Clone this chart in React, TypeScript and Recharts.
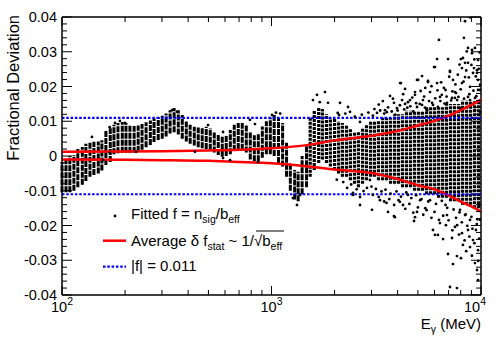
import React from 'react';
import { ComposedChart, Scatter, Line, XAxis, YAxis, ReferenceLine, ErrorBar, Legend } from 'recharts';

const FONT = '"Liberation Sans", Arial, Helvetica, sans-serif';

// ---- data (E in MeV, f = fractional deviation) ----
// dense vertical columns of fitted points: [E, lowest f, highest f]
const columnsLow: [number, number, number][] = [
  [100, -0.0104, -0.0017], [104.5, -0.0104, -0.001], [109, -0.0104, 0.0], [114, -0.01, 0.0003],
  [119, -0.009, 0.002], [125, -0.0083, 0.0026], [130, -0.0072, 0.0035], [136, -0.006, 0.004],
  [142, -0.0055, 0.0041], [149, -0.005, 0.0042], [155, -0.0042, 0.0045], [162, -0.0026, 0.0072],
  [170, -0.0017, 0.008], [177, 0.0005, 0.009], [185, 0.0008, 0.0095], [194, 0.0009, 0.0098],
  [202, 0.0009, 0.0095], [211, 0.0009, 0.009], [221, 0.0009, 0.0086], [231, 0.0012, 0.0088],
  [241, 0.0018, 0.0092], [252, 0.0025, 0.0097], [264, 0.0032, 0.0102], [275, 0.004, 0.0108],
  [288, 0.0046, 0.0112], [301, 0.005, 0.0116], [314, 0.0056, 0.0122], [328, 0.0065, 0.0132],
  [343, 0.0068, 0.0138], [359, 0.0062, 0.0132], [375, 0.005, 0.0118], [392, 0.0042, 0.01],
  [409, 0.0035, 0.009], [428, 0.003, 0.0084], [447, 0.0025, 0.0082], [467, 0.0022, 0.0083],
  [488, 0.002, 0.0084], [510, 0.0018, 0.008], [533, 0.001, 0.007], [557, 0.0003, 0.0062],
  [582, -0.0002, 0.0058], [608, 0.0, 0.006], [636, 0.0005, 0.0075], [664, 0.0015, 0.009],
  [694, 0.002, 0.0095], [725, 0.0018, 0.0095], [758, 0.001, 0.0088], [792, -0.001, 0.0068],
  [828, -0.0015, 0.006], [865, -0.0015, 0.0065], [904, -0.0005, 0.0085], [945, 0.0005, 0.01],
  [987, 0.0005, 0.011], [1030, 0.0, 0.012], [1080, -0.002, 0.011], [1130, -0.003, 0.0095],
  [1180, -0.006, 0.004], [1230, -0.01, -0.002], [1290, -0.0125, -0.004], [1340, -0.013, -0.0045],
  [1400, -0.011, 0.0], [1470, -0.009, 0.003],
];

const columnsHigh: [number, number, number][] = [
  [1530, -0.006, 0.011], [1600, -0.004, 0.013], [1680, -0.002, 0.014], [1750, -0.001, 0.0135],
  [1830, -0.002, 0.012], [1910, -0.003, 0.011], [2000, -0.004, 0.011], [2090, -0.005, 0.01],
  [2180, -0.006, 0.0095], [2280, -0.006, 0.009], [2380, -0.007, 0.008], [2490, -0.008, 0.007],
  [2600, -0.009, 0.007], [2720, -0.008, 0.008], [2840, -0.007, 0.009], [2970, -0.006, 0.01],
  [3100, -0.006, 0.01], [3240, -0.007, 0.01], [3390, -0.007, 0.011], [3540, -0.007, 0.011],
  [3700, -0.008, 0.011], [3870, -0.008, 0.012], [4040, -0.008, 0.012], [4220, -0.009, 0.012],
  [4410, -0.009, 0.013], [4610, -0.009, 0.013], [4820, -0.01, 0.013], [5040, -0.01, 0.013],
  [5260, -0.01, 0.013], [5500, -0.011, 0.014], [5750, -0.011, 0.014], [6010, -0.011, 0.014],
  [6280, -0.012, 0.014], [6560, -0.012, 0.014], [6850, -0.012, 0.015], [7160, -0.013, 0.015],
  [7480, -0.013, 0.015], [7820, -0.013, 0.015], [8170, -0.014, 0.016], [8540, -0.014, 0.016],
  [8920, -0.014, 0.016], [9320, -0.015, 0.016], [9740, -0.015, 0.016],
];

// isolated fitted points: [E, f]
const isolatedLow: [number, number][] = [
  [139, 0.0055], [169, 0.0083], [179, 0.0095], [189, 0.0101], [200, 0.0095], [226, 0.0012],
  [169, 0.0009], [157, -0.0012], [335, 0.0132], [354, 0.0127], [431, 0.0012], [498, 0.0089],
  [587, 0.0069], [789, 0.0104], [834, 0.0092], [587, -0.0006], [634, -0.0012], [862, -0.0017],
  [1006, 0.0118], [1265, -0.0121], [1323, -0.0141], [1370, -0.0112], [1100, 0.0122], [1050, 0.0125],
];

const isolatedHigh: [number, number][] = [
  [1578, 0.0161], [1649, 0.0176], [1700, 0.0155], [1800, 0.0184], [1861, 0.0153], [2070, 0.0124],
  [2123, 0.0153], [2319, 0.0141], [2370, 0.0127], [2645, 0.0098], [3189, 0.0124], [2449, -0.0112],
  [2645, -0.0118], [2856, -0.0092], [2297, -0.0092], [2950, -0.0069], [2449, -0.0106],
  [8860, 0.0399], [8390, 0.0388], [8290, 0.034], [6300, 0.0334], [8670, 0.0311], [9060, 0.0305],
  [8670, 0.0268], [6170, 0.0279], [6960, 0.0279], [8020, 0.0279], [5970, 0.0256], [7110, 0.0245],
  [8110, 0.0253], [9260, 0.0253], [4950, 0.0219], [5230, 0.023], [5585, 0.0216], [4150, 0.021],
  [4340, 0.0193], [7350, 0.0219], [6170, 0.021], [8390, 0.0227], [9570, 0.0239], [9680, 0.0219],
  [4200, 0.0161], [3970, 0.0138], [4582, 0.0161], [5285, 0.0161], [5530, 0.0132], [4950, 0.0141],
  [6230, 0.0141], [6370, 0.017], [7510, 0.0167], [7600, 0.0181], [8860, 0.0199], [9900, 0.019],
  [6770, 0.019], [3678, 0.0173], [3843, 0.0153], [4340, 0.015], [3482, 0.0132], [4840, 0.0176],
  [5710, 0.0184], [7940, 0.0138], [8860, 0.0161], [9360, 0.0132], [9680, 0.0276], [9900, 0.0127],
  [6030, 0.0256], [7110, 0.0242], [5010, 0.0219], [5585, 0.0213], [4110, 0.021], [4840, 0.0184],
  [5420, 0.0196], [6500, 0.0176], [7510, 0.0184], [8110, 0.021], [9160, 0.0239], [9570, 0.0247],
  [8390, 0.0268], [8200, 0.0282], [9060, 0.0296], [9360, 0.0311],
  [4480, 0.0155], [5230, 0.0147], [5840, 0.0153], [6880, 0.0153], [7270, 0.0167], [7690, 0.0161],
  [8670, 0.017], [9360, 0.0167], [9680, 0.019],
  [3100, 0.0135], [3250, 0.0148], [3400, 0.0158], [3550, 0.0126], [3800, 0.0165], [4000, 0.0131],
  [4250, 0.0178], [4450, 0.0139], [4700, 0.0168], [4900, 0.0152], [5150, 0.0187], [5350, 0.0171],
  [5650, 0.0158], [5800, 0.0201], [6050, 0.0166], [6200, 0.0189], [6450, 0.0212], [6650, 0.0196],
  [6850, 0.0171], [7050, 0.0228], [7300, 0.0186], [7550, 0.0206], [7750, 0.0234], [8000, 0.0192],
  [8250, 0.0214], [8500, 0.0246], [8750, 0.0226], [9000, 0.0262], [9200, 0.0188], [9450, 0.0229],
  [9750, 0.0251], [9850, 0.0298], [9300, 0.0278], [8550, 0.0301], [7900, 0.0263],
  [3540, -0.0135], [3600, -0.0161], [3843, -0.0173], [4244, -0.0141], [4840, -0.0176], [4790, -0.0187],
  [5900, -0.0213], [6030, -0.0227], [6590, -0.0239], [7270, -0.0236], [6960, -0.0282], [7350, -0.0311],
  [7680, -0.0288], [8020, -0.0294], [7110, -0.0377], [7680, -0.038], [7510, -0.0204], [8110, -0.0222],
  [6370, -0.0193], [8670, -0.0213], [8860, -0.0262], [9160, -0.0242], [9360, -0.0308], [9570, -0.0328],
  [9680, -0.0271], [9680, -0.0357], [3880, -0.0176], [4950, -0.0161], [6230, -0.0227], [2645, -0.0141],
  [3018, -0.0155], [3296, -0.0127], [4040, -0.0127], [4480, -0.0112], [5120, -0.0127], [5420, -0.015],
  [5710, -0.0127], [6770, -0.0141], [6880, -0.017], [7940, -0.0155], [8390, -0.017], [8860, -0.0184],
  [9900, -0.0184], [9460, -0.0213], [8200, -0.0256], [7690, -0.0199], [9790, -0.0141],
  [3050, -0.0112], [3250, -0.0118], [3450, -0.0131], [3650, -0.0124], [3850, -0.0141], [4100, -0.0132],
  [4350, -0.0152], [4550, -0.0138], [4750, -0.0163], [5000, -0.0148], [5300, -0.0169], [5500, -0.0156],
  [5800, -0.0178], [6000, -0.0161], [6300, -0.0184], [6600, -0.0172], [6800, -0.0199], [7000, -0.0185],
  [7300, -0.0214], [7600, -0.0178], [7850, -0.0226], [8100, -0.0191], [8350, -0.0243], [8600, -0.0201],
  [8800, -0.0232], [9100, -0.0209], [9300, -0.0251], [9550, -0.0196], [9800, -0.0238], [9700, -0.0302],
  [9050, -0.0287], [8500, -0.0274],
  [2100, 0.0118], [2250, 0.0122], [2500, 0.0113], [2700, 0.0119], [2900, 0.0125], [3050, 0.0116],
  [3300, 0.0131], [3450, 0.0122], [3600, 0.014], [3750, 0.0128], [3900, 0.0119], [4100, 0.0146],
  [4300, 0.0134], [4600, 0.0143], [4750, 0.0128], [5100, 0.015], [5400, 0.0139], [5900, 0.0147],
  [6400, 0.0158], [6700, 0.0151], [7200, 0.016], [7800, 0.017], [8300, 0.0165], [8800, 0.0178],
  [9500, 0.0172], [9900, 0.0205],
  [2050, -0.0068], [2200, -0.0075], [2400, -0.0082], [2550, -0.0096], [2750, -0.0101], [3000, -0.0088],
  [3150, -0.0095], [3350, -0.0102], [3500, -0.0097], [3700, -0.0108], [3950, -0.0102], [4150, -0.0117],
  [4400, -0.0105], [4650, -0.0121], [4900, -0.0113], [5200, -0.0124], [5600, -0.0131], [6100, -0.0138],
  [6500, -0.0129], [6900, -0.0149], [7400, -0.0154], [7900, -0.0162], [8450, -0.0168], [9000, -0.0175],
  [9600, -0.0182],
];

// average statistical uncertainty curves
const curveEnergy = [100, 200, 300, 500, 700, 1000, 1500, 2000, 3000, 4000, 5000, 6000, 7000, 8000, 9000, 10000];
const curveUpper = [0.0012, 0.0013, 0.0014, 0.0016, 0.0018, 0.0022, 0.0032, 0.0045, 0.0058, 0.0072, 0.0088, 0.0101, 0.0116, 0.0132, 0.0147, 0.0162];
const curveLower = [-0.001, -0.0011, -0.0012, -0.0014, -0.0017, -0.0021, -0.003, -0.0039, -0.0049, -0.0066, -0.0084, -0.0096, -0.0113, -0.0131, -0.0145, -0.016];

const limitValue = 0.011;

// ticks
const xMajorTicks = [100, 1000, 10000];
const xExponents = ['2', '3', '4'];
const xTicks = [100, 200, 300, 400, 500, 600, 700, 800, 900, 1000, 2000, 3000, 4000, 5000, 6000, 7000, 8000, 9000, 10000];
const yMajorTicks = [-0.04, -0.03, -0.02, -0.01, 0, 0.01, 0.02, 0.03, 0.04];
const yTickLabels = ['-0.04', '-0.03', '-0.02', '-0.01', '0', '0.01', '0.02', '0.03', '0.04'];
const yTicks = [
  -0.04, -0.038, -0.036, -0.034, -0.032, -0.03, -0.028, -0.026, -0.024, -0.022, -0.02, -0.018, -0.016,
  -0.014, -0.012, -0.01, -0.008, -0.006, -0.004, -0.002, 0, 0.002, 0.004, 0.006, 0.008, 0.01, 0.012,
  0.014, 0.016, 0.018, 0.02, 0.022, 0.024, 0.026, 0.028, 0.03, 0.032, 0.034, 0.036, 0.038, 0.04,
];

// ---- tables for the library ----
const toColumn = (c: [number, number, number]) => {
  const mid = (c[1] + c[2]) / 2;
  return { E: c[0], f: mid, err: [mid - c[1], c[2] - mid] };
};
const colLowData = columnsLow.map(toColumn);
const colHighData = columnsHigh.map(toColumn);
const pointsData = [...isolatedLow, ...isolatedHigh].map(([E, f]) => ({ E, f }));
const upperData = curveEnergy.map((E, i) => ({ E, f: curveUpper[i] }));
const lowerData = curveEnergy.map((E, i) => ({ E, f: curveLower[i] }));

// ---- layout ----
const W = 496;
const H = 339;
const PLOT_RIGHT = 481;
const PLOT_TOP = 17;

const EmptyShape = () => <g />;
const DotShape = (p: any) => <circle cx={p.cx} cy={p.cy} r={1.4} fill="#000" />;

const YTick = (props: any) => {
  const { x, y, payload } = props;
  const v = payload.value;
  const idx = yMajorTicks.findIndex((t) => Math.abs(t - v) < 1e-9);
  const major = idx >= 0;
  const len = major ? 10 : 5;
  return (
    <g>
      <line x1={x} x2={x + len} y1={y} y2={y} stroke="#000" strokeWidth={1} />
      <line x1={PLOT_RIGHT} x2={PLOT_RIGHT - len} y1={y} y2={y} stroke="#000" strokeWidth={1} />
      {major && (
        <text x={x - 5} y={y} dy="0.36em" textAnchor="end" fontSize={14.5} fontFamily={FONT} fill="#000">
          {yTickLabels[idx]}
        </text>
      )}
    </g>
  );
};

const XTick = (props: any) => {
  const { x, y, payload } = props;
  const v = payload.value;
  const idx = xMajorTicks.indexOf(v);
  const major = idx >= 0;
  const len = major ? 9 : 5;
  const lx = idx === xMajorTicks.length - 1 ? x - 6 : x;
  return (
    <g>
      <line x1={x} x2={x} y1={y} y2={y - len} stroke="#000" strokeWidth={1} />
      <line x1={x} x2={x} y1={PLOT_TOP} y2={PLOT_TOP + len} stroke="#000" strokeWidth={1} />
      {major && (
        <text x={lx} y={y + 17} textAnchor="middle" fontSize={14.5} fontFamily={FONT} fill="#000">
          10
          <tspan dy={-7} fontSize={10.5}>
            {xExponents[idx]}
          </tspan>
        </text>
      )}
    </g>
  );
};

const XTitle = () => (
  <text x={481} y={329} textAnchor="end" fontSize={15} fontFamily={FONT} fill="#000">
    E
    <tspan dy={4} fontSize={10.5}>
      γ
    </tspan>
    <tspan dy={-4} fontSize={15}>
      {' (MeV)'}
    </tspan>
  </text>
);

const YTitle = () => {
  const tx = 19;
  const ty = 15;
  return (
    <text
      x={tx}
      y={ty}
      transform={`rotate(-90 ${tx} ${ty})`}
      textAnchor="end"
      fontSize={16.5}
      fontFamily={FONT}
      fill="#000"
    >
      Fractional Deviation
    </text>
  );
};

const LegendBox = () => (
  <svg width={200} height={80} style={{ display: 'block', overflow: 'visible' }}>
    <circle cx={20} cy={16} r={1.4} fill="#000" />
    <text x={36} y={19} fontSize={15} fontFamily={FONT} fill="#000">
      Fitted f = n
      <tspan dy={4} fontSize={10.5}>sig</tspan>
      <tspan dy={-4} fontSize={15}>/b</tspan>
      <tspan dy={4} fontSize={10.5}>eff</tspan>
    </text>
    <line x1={8} x2={31} y1={40.7} y2={40.7} stroke="#ff0000" strokeWidth={2.5} />
    <text x={36} y={46} fontSize={15} fontFamily={FONT} fill="#000">
      Average δ f
      <tspan dy={4} fontSize={10.5}>stat</tspan>
      <tspan dy={-4} fontSize={15}>{' ~ 1/√b'}</tspan>
      <tspan dy={4} fontSize={10.5}>eff</tspan>
    </text>
    <line x1={161} x2={189} y1={31} y2={31} stroke="#000" strokeWidth={1} />
    <line x1={8} x2={31} y1={66.7} y2={66.7} stroke="#0000ff" strokeWidth={2.2} strokeDasharray="2.5 1.8" />
    <text x={36} y={70.7} fontSize={15} fontFamily={FONT} fill="#000">
      |f| = 0.011
    </text>
  </svg>
);

export default function App() {
  return (
    <div style={{ position: 'absolute', left: 0, top: 0, background: '#fff' }}>
      <ComposedChart width={W} height={H} margin={{ top: 17, right: 15, bottom: 0, left: 0 }}>
        <XAxis
          dataKey="E"
          type="number"
          scale="log"
          domain={[100, 10000]}
          allowDataOverflow
          ticks={xTicks}
          interval={0}
          tickLine={false}
          tickSize={0}
          tickMargin={0}
          axisLine={{ stroke: '#000', strokeWidth: 1.5 }}
          height={44}
          tick={(p: any) => <XTick {...p} />}
          label={() => <XTitle />}
        />
        <YAxis
          dataKey="f"
          type="number"
          domain={[-0.04, 0.04]}
          allowDataOverflow
          ticks={yTicks}
          interval={0}
          tickLine={false}
          tickSize={0}
          tickMargin={0}
          axisLine={{ stroke: '#000', strokeWidth: 1.5 }}
          width={62}
          tick={(p: any) => <YTick {...p} />}
          label={() => <YTitle />}
        />
        <ReferenceLine y={0.04} stroke="#000" strokeWidth={1.5} />
        <ReferenceLine x={10000} stroke="#000" strokeWidth={1.5} />
        <Scatter data={colLowData} dataKey="f" shape={EmptyShape} isAnimationActive={false}>
          <ErrorBar dataKey="err" direction="y" width={0} stroke="#000" strokeWidth={3} strokeDasharray="6 1" isAnimationActive={false} />
        </Scatter>
        <Scatter data={colHighData} dataKey="f" shape={EmptyShape} isAnimationActive={false}>
          <ErrorBar dataKey="err" direction="y" width={0} stroke="#000" strokeWidth={3.2} strokeDasharray="3 1" isAnimationActive={false} />
        </Scatter>
        <Scatter data={pointsData} dataKey="f" shape={DotShape} isAnimationActive={false} />
        <Line data={upperData} dataKey="f" type="monotone" stroke="#ff0000" strokeWidth={2.5} dot={false} isAnimationActive={false} />
        <Line data={lowerData} dataKey="f" type="monotone" stroke="#ff0000" strokeWidth={2.5} dot={false} isAnimationActive={false} />
        <ReferenceLine y={limitValue} stroke="#0000ff" strokeWidth={2.2} strokeDasharray="2.5 1.8" />
        <ReferenceLine y={-limitValue} stroke="#0000ff" strokeWidth={2.2} strokeDasharray="2.5 1.8" />
        <Legend
          layout="vertical"
          align="center"
          verticalAlign="middle"
          content={() => <LegendBox />}
          wrapperStyle={{ position: 'absolute', left: 95, top: 200, width: 200, height: 80 }}
        />
      </ComposedChart>
    </div>
  );
}
